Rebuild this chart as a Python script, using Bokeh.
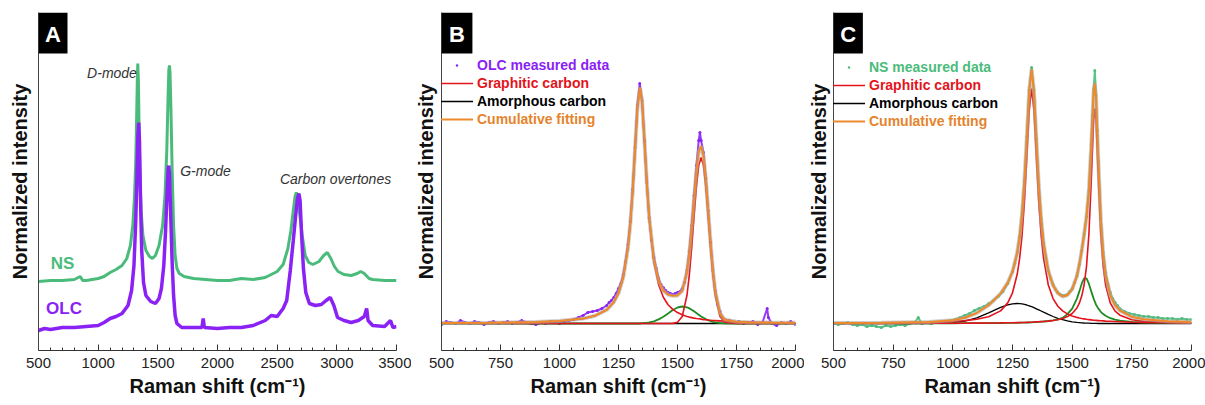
from bokeh.plotting import figure
from bokeh.layouts import row
from bokeh.models import (Range1d, FixedTicker, Label, BoxAnnotation, Legend,
                          LegendItem)
from bokeh.embed import file_html
from bokeh.resources import INLINE

# ---------------- Panel A: full Raman spectra (offset, normalized) ----------------
ns_x = [500, 600, 700, 800, 850, 870, 900, 1000, 1050, 1100, 1150, 1200, 1240, 1270,
        1290, 1305, 1315, 1322, 1328, 1332, 1337, 1343, 1350, 1360, 1375, 1400, 1430,
        1455, 1480, 1510, 1540, 1560, 1575, 1585, 1592, 1597, 1602, 1610, 1620, 1632,
        1645, 1660, 1680, 1720, 1800, 1900, 2000, 2100, 2200, 2300, 2400, 2450, 2500,
        2550, 2590, 2615, 2635, 2650, 2660, 2672, 2690, 2710, 2735, 2765, 2800, 2850,
        2890, 2920, 2950, 2980, 3010, 3060, 3120, 3170, 3200, 3230, 3270, 3300, 3400,
        3500]
ns_y = [0.69, 0.70, 0.70, 0.71, 0.74, 0.70, 0.70, 0.72, 0.74, 0.78, 0.81, 0.85, 0.92, 1.05,
        1.25, 1.55, 1.90, 2.30, 2.70, 2.87, 2.70, 2.20, 1.75, 1.40, 1.15, 1.00, 0.94,
        0.92, 0.95, 1.05, 1.25, 1.55, 2.00, 2.50, 2.80, 2.85, 2.78, 2.40, 1.80, 1.25,
        0.95, 0.82, 0.77, 0.74, 0.72, 0.71, 0.70, 0.70, 0.72, 0.71, 0.73, 0.76, 0.79,
        0.86, 1.02, 1.20, 1.40, 1.54, 1.58, 1.54, 1.35, 1.15, 0.95, 0.88, 0.86, 0.89,
        0.95, 0.98, 0.92, 0.84, 0.79, 0.76, 0.75, 0.77, 0.79, 0.77, 0.72, 0.71, 0.70,
        0.70]

olc_x = [500, 550, 600, 700, 800, 900, 1000, 1050, 1100, 1150, 1200, 1250, 1280, 1300,
         1315, 1325, 1333, 1340, 1346, 1355, 1365, 1380, 1400, 1440, 1480, 1510, 1530,
         1550, 1565, 1578, 1587, 1592, 1598, 1608, 1620, 1632, 1645, 1660, 1700, 1800,
         1870, 1880, 1890, 2000, 2100, 2200, 2300, 2400, 2450, 2500, 2550, 2580, 2610,
         2635, 2655, 2670, 2682, 2692, 2705, 2720, 2740, 2770, 2820, 2870, 2910, 2945,
         2975, 3006, 3060, 3120, 3180, 3230, 3250, 3262, 3300, 3400, 3450, 3470, 3500]
olc_y = [0.20, 0.22, 0.21, 0.23, 0.23, 0.24, 0.25, 0.28, 0.32, 0.34, 0.37, 0.45, 0.60, 0.85,
         1.30, 1.75, 2.15, 2.28, 2.10, 1.50, 1.00, 0.68, 0.55, 0.49, 0.47, 0.52, 0.62,
         0.85, 1.20, 1.60, 1.82, 1.85, 1.75, 1.35, 0.88, 0.55, 0.35, 0.27, 0.23, 0.23,
         0.23, 0.32, 0.23, 0.22, 0.23, 0.23, 0.25, 0.30, 0.35, 0.34, 0.42, 0.50, 0.80,
         1.10, 1.35, 1.52, 1.57, 1.50, 1.15, 0.82, 0.58, 0.47, 0.45, 0.46, 0.50, 0.53,
         0.45, 0.33, 0.30, 0.28, 0.30, 0.34, 0.42, 0.30, 0.25, 0.24, 0.30, 0.23, 0.24]

# ---------------- Panel B: OLC peak fitting ----------------
olc_meas_x = [500, 520, 540, 560, 580, 600, 620, 640, 660, 680, 700, 720, 740, 760, 780,
              800, 820, 840, 860, 880, 900, 920, 940, 960, 980, 1000, 1020, 1040, 1060,
              1080, 1100, 1120, 1140, 1160, 1180, 1200, 1210, 1220, 1230, 1240, 1250,
              1260, 1270, 1280, 1290, 1300, 1310, 1320, 1330, 1340, 1350, 1360, 1370,
              1380, 1390, 1400, 1410, 1420, 1430, 1440, 1450, 1460, 1470, 1480, 1490,
              1500, 1510, 1520, 1530, 1540, 1550, 1560, 1570, 1580, 1590, 1595, 1600,
              1610, 1620, 1630, 1640, 1650, 1660, 1670, 1680, 1690, 1700, 1720, 1740,
              1760, 1780, 1800, 1820, 1840, 1860, 1880, 1885, 1900, 1920, 1940, 1960,
              1980, 2000]
olc_meas_y = [0.26, 0.29, 0.28, 0.27, 0.30, 0.28, 0.27, 0.29, 0.28, 0.26, 0.28, 0.29, 0.27,
              0.28, 0.29, 0.27, 0.28, 0.30, 0.28, 0.27, 0.26, 0.28, 0.27, 0.29, 0.28,
              0.27, 0.29, 0.30, 0.31, 0.33, 0.35, 0.38, 0.39, 0.40, 0.42, 0.45, 0.48,
              0.50, 0.53, 0.57, 0.62, 0.67, 0.76, 0.89, 1.06, 1.29, 1.61, 2.03, 2.46,
              2.67, 2.50, 2.10, 1.68, 1.33, 1.10, 0.93, 0.82, 0.72, 0.66, 0.63, 0.60,
              0.58, 0.57, 0.56, 0.57, 0.58, 0.59, 0.62, 0.68, 0.80, 0.99, 1.25, 1.55,
              1.85, 2.10, 2.18, 2.10, 1.98, 1.72, 1.40, 1.08, 0.80, 0.60, 0.46, 0.39,
              0.33, 0.31, 0.30, 0.28, 0.29, 0.27, 0.28, 0.29, 0.26, 0.28, 0.42, 0.33,
              0.27, 0.25, 0.28, 0.27, 0.29, 0.26]

fit_b_x = [500, 700, 900, 1000, 1100, 1150, 1200, 1230, 1250, 1270, 1290, 1300, 1310, 1320,
           1330, 1341, 1350, 1360, 1370, 1380, 1400, 1420, 1440, 1460, 1480, 1500, 1520,
           1540, 1550, 1560, 1570, 1580, 1590, 1600, 1610, 1620, 1630, 1640, 1650, 1660,
           1680, 1700, 1750, 1800, 1900, 2000]
graphitic_d_b = [0.274, 0.277, 0.285, 0.294, 0.319, 0.347, 0.407, 0.483, 0.574, 0.731, 1.026,
                 1.265, 1.592, 2.005, 2.418, 2.630, 2.484, 2.093, 1.669, 1.323, 0.884,
                 0.657, 0.532, 0.458, 0.411, 0.379, 0.357, 0.341, 0.334, 0.329, 0.324,
                 0.320, 0.317, 0.314, 0.309, 0.307, 0.304, 0.302, 0.300, 0.299, 0.296,
                 0.293, 0.287, 0.283, 0.279, 0.277]
graphitic_g_b = [0.270, 0.270, 0.270, 0.270, 0.270, 0.270, 0.270, 0.270, 0.270, 0.270, 0.270,
                 0.270, 0.270, 0.270, 0.270, 0.270, 0.270, 0.270, 0.270, 0.270, 0.270,
                 0.270, 0.270, 0.270, 0.271, 0.282, 0.340, 0.550, 0.753, 1.024, 1.334,
                 1.633, 1.850, 1.930, 1.850, 1.633, 1.334, 1.024, 0.753, 0.550, 0.340,
                 0.282, 0.270, 0.270, 0.270, 0.270]
side_band_b = [0.270, 0.270, 0.270, 0.270, 0.270, 0.270, 0.270, 0.270, 0.270, 0.270, 0.270,
               0.270, 0.270, 0.270, 0.270, 0.270, 0.273, 0.275, 0.277, 0.281, 0.292,
               0.311, 0.338, 0.371, 0.405, 0.430, 0.440, 0.432, 0.421, 0.408, 0.392,
               0.375, 0.358, 0.341, 0.327, 0.314, 0.303, 0.294, 0.287, 0.282, 0.275,
               0.272, 0.270, 0.270, 0.270, 0.270]
amorphous_b = [0.270] * len(fit_b_x)
cumulative_b = [0.274, 0.277, 0.285, 0.294, 0.319, 0.347, 0.407, 0.483, 0.574, 0.731, 1.026,
                1.265, 1.592, 2.005, 2.418, 2.630, 2.487, 2.098, 1.676, 1.334, 0.906,
                0.698, 0.600, 0.559, 0.547, 0.551, 0.597, 0.783, 0.968, 1.221, 1.510,
                1.788, 1.985, 2.045, 1.946, 1.714, 1.401, 1.080, 0.800, 0.591, 0.371,
                0.307, 0.287, 0.283, 0.279, 0.277]

# ---------------- Panel C: NS peak fitting ----------------
ns_meas_x = [500, 520, 540, 560, 580, 600, 620, 640, 660, 680, 700, 720, 740, 760, 780, 800,
             820, 840, 855, 870, 890, 910, 930, 950, 970, 990, 1010, 1030, 1050, 1070, 1090,
             1110, 1130, 1150, 1170, 1190, 1210, 1230, 1250, 1260, 1270, 1280, 1290, 1300,
             1310, 1320, 1330, 1340, 1350, 1360, 1370, 1380, 1390, 1400, 1410, 1420, 1430,
             1440, 1450, 1460, 1470, 1480, 1490, 1500, 1510, 1520, 1530, 1540, 1550, 1560,
             1570, 1580, 1585, 1590, 1595, 1600, 1605, 1610, 1620, 1630, 1640, 1650, 1660,
             1670, 1680, 1690, 1700, 1720, 1740, 1760, 1780, 1800, 1820, 1840, 1860, 1880,
             1900, 1920, 1940, 1960, 1980, 2000]
ns_meas_y = [0.27, 0.26, 0.27, 0.28, 0.26, 0.25, 0.26, 0.24, 0.25, 0.24, 0.23, 0.25, 0.24,
             0.25, 0.26, 0.25, 0.27, 0.28, 0.33, 0.27, 0.28, 0.27, 0.28, 0.29, 0.29, 0.30,
             0.31, 0.33, 0.35, 0.37, 0.40, 0.42, 0.44, 0.47, 0.50, 0.54, 0.59, 0.67, 0.79,
             0.87, 0.98, 1.14, 1.37, 1.70, 2.14, 2.60, 2.83, 2.60, 2.11, 1.66, 1.32, 1.08,
             0.92, 0.80, 0.72, 0.66, 0.61, 0.58, 0.56, 0.55, 0.55, 0.56, 0.59, 0.62, 0.68,
             0.75, 0.86, 1.00, 1.16, 1.34, 1.60, 2.06, 2.35, 2.62, 2.80, 2.55, 2.20, 1.89,
             1.32, 0.98, 0.78, 0.66, 0.58, 0.52, 0.48, 0.45, 0.42, 0.39, 0.37, 0.36, 0.35,
             0.34, 0.34, 0.33, 0.33, 0.32, 0.32, 0.32, 0.31, 0.32, 0.31, 0.31]

fit_c_x = [500, 700, 900, 1000, 1050, 1100, 1150, 1200, 1230, 1250, 1270, 1280, 1290, 1300,
           1310, 1320, 1330, 1340, 1350, 1360, 1370, 1380, 1400, 1420, 1440, 1460, 1480,
           1500, 1520, 1530, 1540, 1550, 1560, 1570, 1580, 1590, 1595, 1600, 1610, 1620,
           1630, 1640, 1660, 1680, 1700, 1750, 1800, 1900, 2000]
graphitic_d_c = [0.273, 0.276, 0.282, 0.291, 0.299, 0.312, 0.338, 0.396, 0.476, 0.577, 0.765,
                 0.923, 1.152, 1.483, 1.930, 2.399, 2.620, 2.399, 1.930, 1.483, 1.152,
                 0.923, 0.655, 0.519, 0.443, 0.396, 0.366, 0.346, 0.331, 0.325, 0.320,
                 0.316, 0.312, 0.309, 0.306, 0.303, 0.302, 0.301, 0.299, 0.297, 0.296,
                 0.294, 0.292, 0.290, 0.288, 0.283, 0.280, 0.277, 0.275]
graphitic_g_c = [0.271, 0.271, 0.272, 0.273, 0.273, 0.274, 0.275, 0.276, 0.277, 0.278, 0.279,
                 0.279, 0.280, 0.280, 0.281, 0.282, 0.283, 0.285, 0.286, 0.287, 0.289,
                 0.290, 0.294, 0.300, 0.308, 0.320, 0.339, 0.370, 0.426, 0.473, 0.544,
                 0.655, 0.839, 1.159, 1.694, 2.305, 2.420, 2.305, 1.694, 1.159, 0.839,
                 0.655, 0.473, 0.393, 0.353, 0.308, 0.292, 0.280, 0.276]
side_band_c = [0.271, 0.271, 0.272, 0.272, 0.273, 0.273, 0.274, 0.275, 0.276, 0.276, 0.277,
               0.278, 0.278, 0.279, 0.279, 0.280, 0.281, 0.284, 0.285, 0.286, 0.288,
               0.290, 0.295, 0.302, 0.311, 0.326, 0.364, 0.419, 0.519, 0.591, 0.668,
               0.722, 0.722, 0.668, 0.591, 0.519, 0.488, 0.458, 0.419, 0.387, 0.364,
               0.347, 0.323, 0.309, 0.299, 0.286, 0.280, 0.276, 0.273]
amorphous_c = [0.270, 0.270, 0.270, 0.278, 0.293, 0.326, 0.376, 0.432, 0.457, 0.467, 0.470,
               0.469, 0.466, 0.461, 0.455, 0.447, 0.438, 0.428, 0.417, 0.406, 0.395,
               0.383, 0.361, 0.340, 0.322, 0.308, 0.296, 0.287, 0.281, 0.279, 0.277,
               0.275, 0.274, 0.273, 0.272, 0.271, 0.271, 0.271, 0.270, 0.270, 0.270,
               0.270, 0.270, 0.270, 0.270, 0.270, 0.270, 0.270, 0.270]
cumulative_c = [0.275, 0.278, 0.286, 0.303, 0.327, 0.375, 0.453, 0.569, 0.676, 0.788, 0.981,
                1.139, 1.366, 1.693, 2.135, 2.598, 2.812, 2.586, 2.108, 1.652, 1.314,
                1.076, 0.795, 0.651, 0.574, 0.540, 0.555, 0.612, 0.747, 0.858, 0.999,
                1.158, 1.337, 1.599, 2.053, 2.587, 2.670, 2.524, 1.872, 1.303, 0.959,
                0.756, 0.548, 0.452, 0.400, 0.337, 0.312, 0.293, 0.284]

ticks_a = [500, 1000, 1500, 2000, 2500, 3000, 3500]
ticks_bc = [500, 750, 1000, 1250, 1500, 1750, 2000]

# ---------------- styling ----------------
FONT = "Liberation Sans"
NS_GREEN = "#4BBB7B"
OLC_PURPLE = "#8A22F5"
FIT_RED = "#E3141C"
FIT_ORANGE = "#EE8A2A"
SIDE_GREEN = "#1E8C23"
Y_TOP = 3.38


def make_panel(width, border_left, border_right, x_end, ticks, minor_step, letter,
               box_right, title_standoff):
    p = figure(width=width, height=405, x_range=Range1d(500, x_end),
               y_range=Range1d(0, Y_TOP), output_backend="svg", toolbar_location=None,
               min_border_left=border_left, min_border_right=border_right,
               min_border_top=12, min_border_bottom=55)
    p.outline_line_color = None
    p.grid.visible = False
    p.background_fill_color = "white"

    xa = p.xaxis[0]
    minor = [v for v in range(500, x_end + 1, minor_step) if v not in ticks]
    xa.ticker = FixedTicker(ticks=ticks, minor_ticks=minor)
    xa.major_tick_in = 6
    xa.major_tick_out = 0
    xa.minor_tick_in = 3
    xa.minor_tick_out = 0
    xa.axis_line_color = "#333333"
    xa.major_tick_line_color = "#333333"
    xa.minor_tick_line_color = "#333333"
    xa.major_label_text_font = FONT
    xa.major_label_text_font_size = "15px"
    xa.major_label_text_color = "#222222"
    xa.major_label_standoff = 7
    xa.axis_label = "Raman shift (cm\u207b\u00b9)"
    xa.axis_label_text_font = FONT
    xa.axis_label_text_font_style = "bold"
    xa.axis_label_text_font_size = "20px"
    xa.axis_label_text_color = "#111111"
    xa.axis_label_standoff = 4

    ya = p.yaxis[0]
    ya.ticker = FixedTicker(ticks=[])
    ya.major_tick_in = 0
    ya.major_tick_out = 0
    ya.minor_tick_in = 0
    ya.minor_tick_out = 0
    ya.major_label_standoff = 0
    ya.axis_line_color = "#444444"
    ya.axis_label = "Normalized intensity"
    ya.axis_label_text_font = FONT
    ya.axis_label_text_font_style = "bold"
    ya.axis_label_text_font_size = "20px"
    ya.axis_label_text_color = "#111111"
    ya.axis_label_standoff = title_standoff

    box = BoxAnnotation(left=500, right=box_right, top=Y_TOP, bottom=2.97,
                        fill_color="black", fill_alpha=1.0, line_color=None)
    p.add_layout(box)
    p.add_layout(Label(x=(500 + box_right) / 2, y=3.165, text=letter,
                       text_align="center", text_baseline="middle",
                       text_color="white", text_font=FONT, text_font_style="bold",
                       text_font_size="22px"))
    return p


def add_legend(p, renderer, label, color, offset_y, glyph_h=18):
    leg = Legend(items=[LegendItem(label=label, renderers=[renderer])],
                 location=(-1, offset_y), background_fill_alpha=0,
                 border_line_alpha=0, padding=0, margin=0, spacing=0,
                 glyph_width=33, glyph_height=glyph_h, label_height=18,
                 label_standoff=4, label_text_font=FONT,
                 label_text_font_style="bold", label_text_font_size="14px",
                 label_text_color=color)
    p.add_layout(leg)


# Panel A
pa = make_panel(411, 38, 15, 3500, ticks_a, 100, "A", 743, 8)
pa.line(ns_x, ns_y, line_color=NS_GREEN, line_width=3)
pa.line(olc_x, olc_y, line_color=OLC_PURPLE, line_width=3.5)
for txt, x, y in [("D-mode", 1116, 2.78), ("G-mode", 1899, 1.80),
                  ("Carbon overtones", 2989, 1.72)]:
    pa.add_layout(Label(x=x, y=y, text=txt, text_align="center", text_baseline="middle",
                        text_font=FONT, text_font_style="italic", text_font_size="14px",
                        text_color="#333333"))
pa.add_layout(Label(x=701, y=0.87, text="NS", text_align="center", text_baseline="middle",
                    text_font=FONT, text_font_style="bold", text_font_size="17px",
                    text_color=NS_GREEN))
pa.add_layout(Label(x=714, y=0.42, text="OLC", text_align="center", text_baseline="middle",
                    text_font=FONT, text_font_style="bold", text_font_size="17px",
                    text_color=OLC_PURPLE))


def fit_panel(p, meas_x, meas_y, meas_color, meas_label, fx, d_vals, g_vals, side_vals,
              amor_vals, cum_vals, legend_y):
    p.line(meas_x, meas_y, line_color=meas_color, line_width=2, line_alpha=0.9)
    r_meas = p.scatter(meas_x, meas_y, size=3, marker="circle", fill_color=meas_color,
                       line_color=None)
    r_amor = p.line(fx, amor_vals, line_color="black", line_width=1.3)
    p.line(fx, side_vals, line_color=SIDE_GREEN, line_width=1.8)
    r_red = p.line(fx, d_vals, line_color=FIT_RED, line_width=1.6)
    p.line(fx, g_vals, line_color=FIT_RED, line_width=1.6)
    p.line(fx, cum_vals, line_color="#AAAAAA", line_width=4, line_alpha=0.6)
    r_cum = p.line(fx, cum_vals, line_color=FIT_ORANGE, line_width=2)
    add_legend(p, r_meas, meas_label, meas_color, legend_y[0], glyph_h=6)
    add_legend(p, r_red, "Graphitic carbon", FIT_RED, legend_y[1])
    add_legend(p, r_amor, "Amorphous carbon", "black", legend_y[2])
    add_legend(p, r_cum, "Cumulative fitting", "#E5842C", legend_y[3])


# Panel B
pb = make_panel(393, 29, 9, 2000, ticks_bc, 50, "B", 631, 5)
fit_panel(pb, olc_meas_x, olc_meas_y, OLC_PURPLE, "OLC measured data", fit_b_x,
          graphitic_d_b, graphitic_g_b, side_band_b, amorphous_b, cumulative_b,
          [276, 258, 240, 222])

# Panel C
pc = make_panel(401, 28, 14, 2000, ticks_bc, 50, "C", 623, 4)
fit_panel(pc, ns_meas_x, ns_meas_y, NS_GREEN, "NS measured data", fit_c_x,
          graphitic_d_c, graphitic_g_c, side_band_c, amorphous_c, cumulative_c,
          [274, 256, 238, 220])

layout = row(pa, pb, pc, spacing=0)
open("out.html", "w").write(file_html(layout, INLINE))
